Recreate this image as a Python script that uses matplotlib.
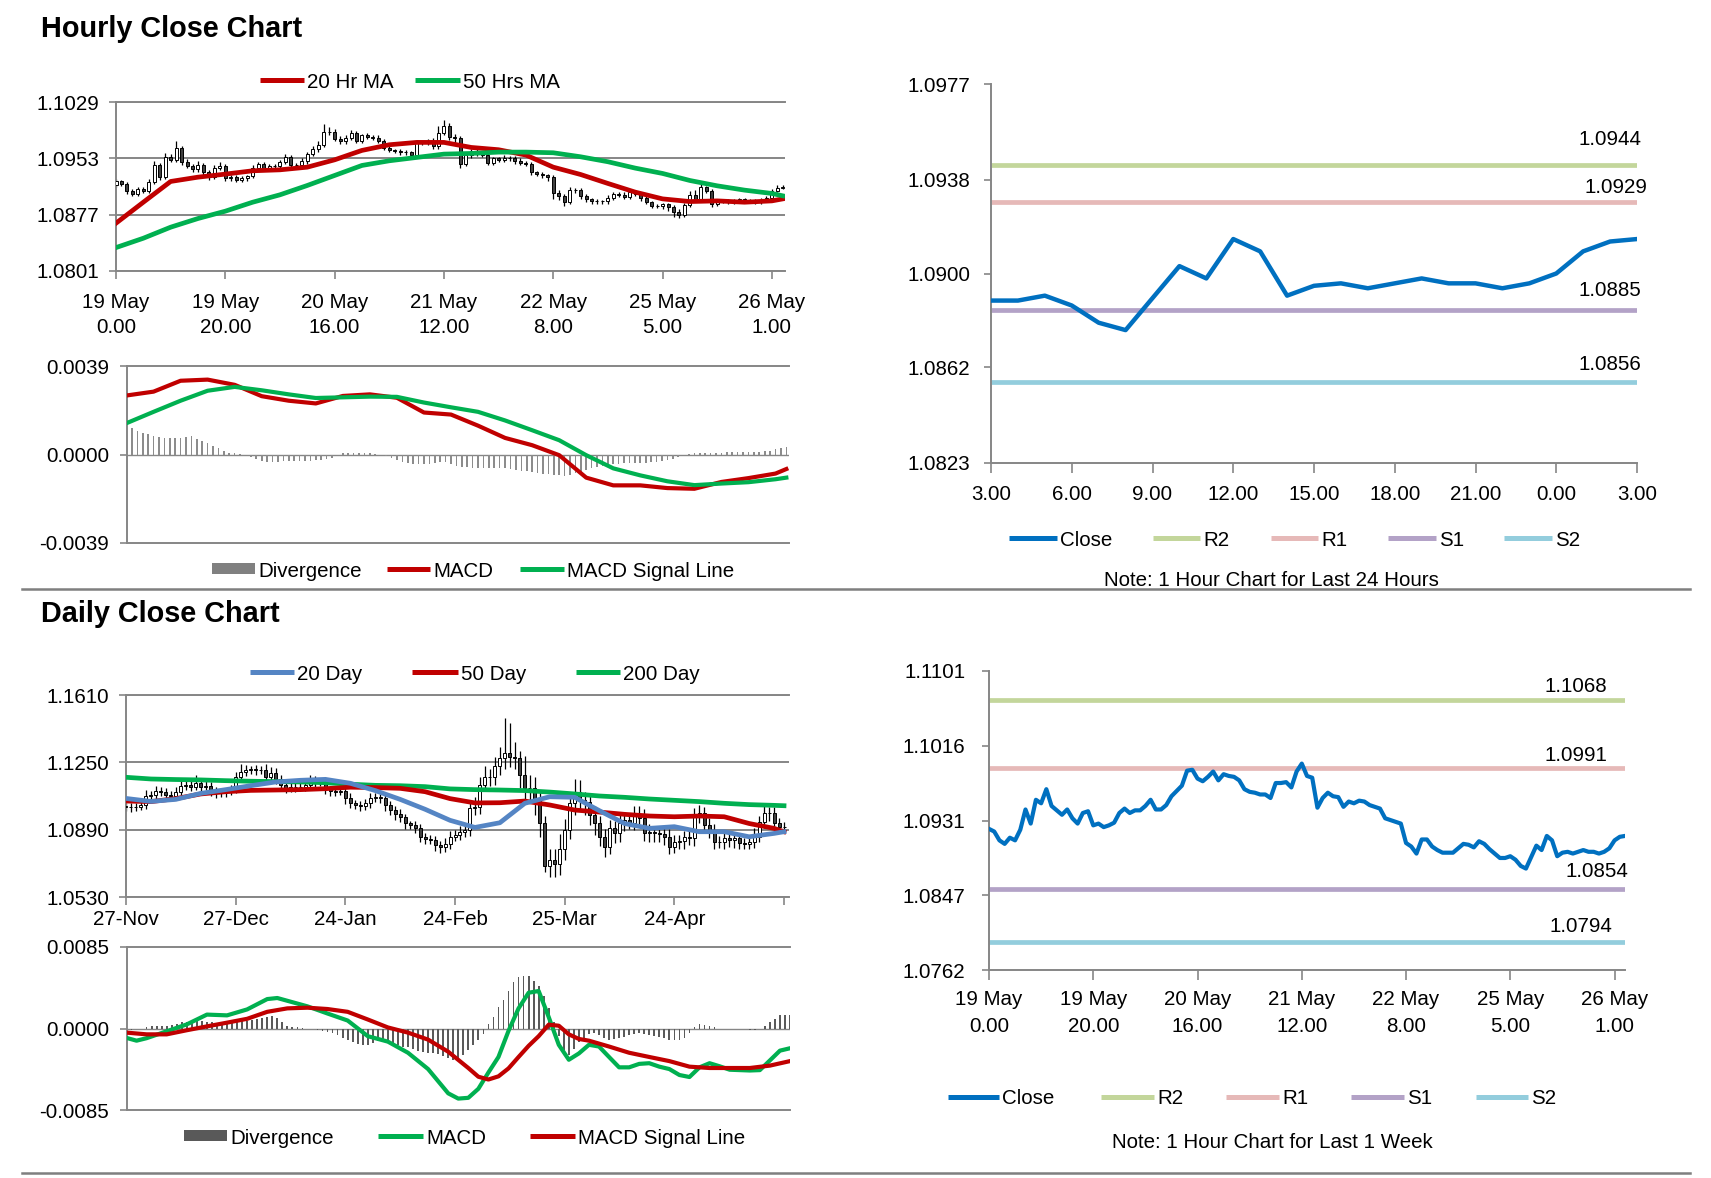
import matplotlib
matplotlib.use("Agg")
import matplotlib.pyplot as plt
from matplotlib import font_manager as fm
from matplotlib.lines import Line2D
from matplotlib.patches import Rectangle
import numpy as np

# ---------------- data: hourly (19 May 0.00 .. 26 May 3.00) ----------------
hour_labels = ["19 May\n0.00", "19 May\n20.00", "20 May\n16.00", "21 May\n12.00",
               "22 May\n8.00", "25 May\n5.00", "26 May\n1.00"]
hour_label_pos = [0, 20, 40, 60, 80, 100, 120]

hour_close = [
    1.0922, 1.0919, 1.0909, 1.0905, 1.0912, 1.0909, 1.0921, 1.0944, 1.0928, 1.0955,
    1.0951, 1.0967, 1.0948, 1.0943, 1.0938, 1.0944, 1.0934, 1.0928, 1.0940, 1.0942,
    1.0926, 1.0928, 1.0924, 1.0926, 1.0929, 1.0940, 1.0945, 1.0940, 1.0943, 1.0943,
    1.0948, 1.0955, 1.0944, 1.0944, 1.0949, 1.0959, 1.0965, 1.0971, 1.0988, 1.0989,
    1.0979, 1.0976, 1.0981, 1.0987, 1.0977, 1.0984, 1.0982, 1.0981, 1.0977, 1.0967,
    1.0964, 1.0963, 1.0961, 1.0961, 1.0957, 1.0974, 1.0974, 1.0975, 1.0969, 1.0987,
    1.0996, 1.0982, 1.0980, 1.0946, 1.0957, 1.0963, 1.0959, 1.0958, 1.0947, 1.0953,
    1.0951, 1.0954, 1.0953, 1.0949, 1.0947, 1.0945, 1.0934, 1.0932, 1.0930, 1.0928,
    1.0906, 1.0902, 1.0894, 1.0910, 1.0910, 1.0902, 1.0898, 1.0895, 1.0895, 1.0895,
    1.0900, 1.0905, 1.0904, 1.0901, 1.0908, 1.0905, 1.0899, 1.0894,
    1.0889, 1.0889, 1.0891, 1.0887, 1.0880, 1.0877, 1.0890, 1.0903, 1.0898, 1.0914,
    1.0909, 1.0891, 1.0895, 1.0896, 1.0894, 1.0896, 1.0898, 1.0896, 1.0896, 1.0894,
    1.0896, 1.0900, 1.0909, 1.0913, 1.0914]
hour_first_open = 1.0917
hour_hi_pips = [
    3, 2, 2, 3, 2, 3, 4, 6, 3, 5, 4, 9, 3, 4, 3, 5, 3, 3, 4, 6,
    3, 2, 3, 3, 2, 4, 3, 3, 2, 3, 3, 4, 3, 3, 4, 3, 4, 5, 11, 6,
    3, 4, 3, 4, 3, 2, 3, 2, 3, 2, 3, 2, 3, 3, 2, 4, 3, 4, 6, 10,
    9, 5, 4, 3, 3, 3, 3, 3, 4, 2, 2, 3, 2, 3, 4, 3, 3, 2, 3, 2,
    3, 4, 3, 4, 3, 3, 3, 2, 3, 2, 3, 3, 3, 3, 3, 2, 3, 3, 2, 3,
    2, 2, 3, 4, 3, 6, 7, 4, 2, 3, 2, 2, 2, 2, 2, 2, 2, 2, 3, 2,
    3, 4, 3]
hour_lo_pips = [
    3, 3, 4, 3, 3, 3, 3, 3, 4, 3, 3, 3, 4, 3, 3, 3, 4, 4, 3, 3,
    4, 3, 3, 3, 3, 3, 3, 3, 3, 3, 3, 3, 3, 3, 3, 3, 3, 3, 3, 3,
    3, 3, 3, 3, 3, 3, 3, 3, 3, 3, 3, 3, 3, 3, 3, 3, 3, 3, 3, 3,
    3, 4, 9, 6, 3, 3, 3, 3, 3, 3, 3, 3, 3, 3, 3, 3, 3, 3, 4, 5,
    8, 5, 5, 3, 4, 4, 4, 3, 3, 3, 3, 3, 3, 3, 3, 3, 3, 3, 3, 3,
    4, 5, 6, 4, 3, 3, 3, 3, 3, 3, 2, 2, 2, 2, 2, 2, 2, 2, 2, 2,
    2, 2, 2]

hr_idx = [0, 5, 10, 15, 20, 25, 30, 35, 40, 45, 50, 55, 60,
          65, 70, 75, 80, 85, 90, 95, 100, 105, 110, 115, 120, 122]
ma20_hr = [1.08655, 1.08938, 1.09218, 1.09276, 1.09317, 1.09362, 1.09375, 1.09411, 1.09510,
           1.09637, 1.09713, 1.09745, 1.09745, 1.09677, 1.09646, 1.09574, 1.09411, 1.09312,
           1.09191, 1.09074, 1.08983, 1.08947, 1.08956, 1.08938, 1.08956, 1.08983]
ma50_hr = [1.08326, 1.08452, 1.08601, 1.08718, 1.08817, 1.08938, 1.09038, 1.09164, 1.09299,
           1.09434, 1.09497, 1.09542, 1.09587, 1.09596, 1.09614, 1.09614, 1.09605, 1.09551,
           1.09484, 1.09398, 1.09326, 1.09231, 1.09159, 1.09101, 1.09056, 1.09024]
macd_hr = [0.00260, 0.00277, 0.00325, 0.00330, 0.00307, 0.00257, 0.00237, 0.00225, 0.00258,
           0.00265, 0.00250, 0.00185, 0.00176, 0.00127, 0.00073, 0.00041, -0.00003, -0.00102,
           -0.00136, -0.00136, -0.00148, -0.00151, -0.00121, -0.00104, -0.00084, -0.00064]
signal_hr = [0.00138, 0.00188, 0.00237, 0.00281, 0.00298, 0.00283, 0.00265, 0.00249, 0.00252,
             0.00255, 0.00254, 0.00229, 0.00208, 0.00188, 0.00150, 0.00107, 0.00063, -0.00003,
             -0.00061, -0.00092, -0.00118, -0.00135, -0.00128, -0.00122, -0.00109, -0.00102]
div_hr_pips = [
    12.7, 11.5, 10.4, 9.6, 8.9, 8.1, 7.8, 7.3, 7.3, 7.3, 7.3, 7.8, 8.1, 6.9, 5.8, 5.0, 3.8, 2.8,
    1.7, 0.8, 0.5, 0.2, 0.0, -1.1, -1.8, -2.9, -3.4, -3.4, -3.4, -2.9, -2.9, -2.9, -2.9, -2.9,
    -2.9, -2.6, -2.3, -1.8, -1.4, -0.3, 0.5, 0.5, 0.5, 0.5, 0.5, 0.5, 0.2, 0.0, -0.8, -1.4,
    -2.3, -3.4, -3.8, -4.1, -4.1, -4.1, -4.1, -3.8, -3.4, -3.4, -4.1, -4.9, -5.4, -5.7, -6.0,
    -6.0, -6.1, -6.1, -6.1, -6.1, -6.1, -6.4, -6.9, -7.2, -7.2, -7.5, -8.0, -8.4, -8.7, -9.0,
    -9.2, -9.5, -9.0, -8.0, -7.5, -6.9, -6.0, -5.4, -4.9, -4.4, -4.1, -4.1, -3.8, -3.8, -3.8,
    -3.8, -3.8, -3.5, -3.4, -2.9, -2.3, -1.8, -1.1, -0.3, 0.2, 0.5, 0.8, 0.8, 0.8, 0.8, 0.8,
    0.9, 1.2, 1.2, 1.2, 1.2, 1.2, 1.2, 1.5, 1.5, 2.3, 2.8, 3.5]

last24_labels = ["3.00", "6.00", "9.00", "12.00", "15.00", "18.00", "21.00", "0.00", "3.00"]
pivot_names = ["R2", "R1", "S1", "S2"]
pivot_colors = ["#C3D69B", "#E6B9B8", "#B3A2C7", "#93CDDD"]
pivot_day = [1.0944, 1.0929, 1.0885, 1.0856]
pivot_week = [1.1068, 1.0991, 1.0854, 1.0794]

# ---------------- data: daily (27-Nov .. 26-May) ----------------
day_labels = ["27-Nov", "27-Dec", "24-Jan", "24-Feb", "25-Mar", "24-Apr", ""]
day_label_pos = [0, 22, 44, 66, 88, 110, 132]
day_close = [
    1.1009, 1.1013, 1.1009, 1.1022, 1.1070, 1.1075, 1.1099, 1.1093, 1.1075, 1.1070,
    1.1093, 1.1124, 1.1129, 1.1120, 1.1142, 1.1120, 1.1124, 1.1102, 1.1084, 1.1088,
    1.1093, 1.1102, 1.1170, 1.1200, 1.1209, 1.1213, 1.1209, 1.1209, 1.1170, 1.1192,
    1.1159, 1.1129, 1.1111, 1.1116, 1.1120, 1.1120, 1.1129, 1.1156, 1.1141, 1.1147,
    1.1106, 1.1099, 1.1093, 1.1099, 1.1057, 1.1031, 1.1022, 1.1016, 1.1031, 1.1057,
    1.1063, 1.1057, 1.1022, 1.0995, 1.0973, 1.0956, 1.0923, 1.0915, 1.0897, 1.0852,
    1.0839, 1.0834, 1.0807, 1.0798, 1.0816,
    1.0852, 1.0861, 1.0879, 1.0888, 1.1004, 1.1013, 1.1129, 1.1170, 1.1170, 1.1231,
    1.1272, 1.1299, 1.1281, 1.1272, 1.1183, 1.1111, 1.1111, 1.1049, 1.0923, 1.0695,
    1.0727, 1.0709, 1.0789, 1.0888, 1.1031, 1.1093, 1.1049, 1.1040, 1.0968, 1.0923,
    1.0852, 1.0798, 1.0897, 1.0870, 1.0923, 1.0941, 1.0927, 1.0974, 1.0950, 1.0870,
    1.0879, 1.0873, 1.0866, 1.0852, 1.0798, 1.0825, 1.0831, 1.0852, 1.0848, 1.0959,
    1.0977, 1.0915, 1.0888, 1.0825, 1.0825, 1.0843, 1.0834, 1.0843, 1.0820, 1.0816,
    1.0825, 1.0852, 1.0932, 1.0981, 1.0977, 1.0923, 1.0906, 1.0902]
day_first_open = 1.1018
day_hi_pips = [
    15, 20, 18, 25, 30, 20, 25, 20, 18, 22, 25, 30, 35, 25, 40, 20, 25, 20, 15, 25,
    20, 25, 30, 40, 25, 20, 25, 20, 30, 35, 30, 25, 20, 25, 20, 25, 30, 25, 20, 20,
    25, 20, 25, 20, 25, 30, 20, 20, 25, 30, 25, 20, 25, 20, 20, 25, 20, 15, 20, 25,
    20, 25, 20, 25, 30,
    30, 25, 30, 35, 40, 50, 45, 60, 45, 50, 60, 190, 160, 80, 40, 100, 70, 60, 50, 40,
    60, 60, 80, 60, 60, 70, 60, 40, 40, 50, 40, 40, 45, 40, 50, 40, 30, 45, 40, 50,
    40, 30, 30, 40, 40, 35, 30, 30, 35, 45, 45, 35, 40, 30, 30, 35, 30, 25, 30, 25,
    30, 45, 30, 40, 30, 35, 30, 25]
day_lo_pips = [
    20, 25, 20, 15, 20, 25, 20, 25, 20, 15, 20, 25, 20, 25, 20, 25, 20, 30, 25, 20,
    25, 20, 15, 20, 25, 20, 25, 20, 25, 20, 25, 30, 25, 20, 25, 20, 25, 20, 25, 20,
    25, 30, 25, 20, 30, 25, 20, 25, 20, 25, 20, 25, 30, 25, 30, 25, 30, 20, 25, 30,
    25, 20, 30, 35, 25,
    30, 25, 25, 30, 30, 35, 40, 30, 45, 40, 50, 60, 55, 60, 70, 60, 75, 80, 70, 30,
    60, 70, 60, 60, 50, 60, 55, 70, 55, 60, 50, 55, 40, 50, 45, 40, 35, 40, 45, 40,
    45, 50, 40, 45, 40, 35, 40, 45, 40, 45, 35, 40, 45, 40, 35, 40, 35, 40, 35, 30,
    30, 35, 30, 35, 40, 30, 35, 30]

dma_idx = [0, 5, 10, 15, 20, 25, 30, 35, 40, 45, 50, 55, 60, 65,
           70, 75, 80, 85, 90, 95, 100, 105, 110, 115, 120, 125, 130, 132]
ma20_day = [1.1057, 1.1041, 1.1052, 1.1084, 1.1104, 1.1125, 1.1145, 1.1154, 1.1159, 1.1138,
            1.1099, 1.1052, 1.0999, 1.0940, 1.0902, 1.0927, 1.1031, 1.1066, 1.1063, 1.0991,
            1.0923, 1.0897, 1.0906, 1.0879, 1.0879, 1.0852, 1.0870, 1.0879]
ma50_day = [1.1043, 1.1040, 1.1056, 1.1081, 1.1093, 1.1100, 1.1102, 1.1104, 1.1109, 1.1117,
            1.1115, 1.1111, 1.1093, 1.1056, 1.1033, 1.1034, 1.1043, 1.1022, 1.0995, 1.0984,
            1.0972, 1.0963, 1.0959, 1.0963, 1.0959, 1.0923, 1.0897, 1.0879]
ma200_day = [1.1170, 1.1161, 1.1158, 1.1156, 1.1152, 1.1149, 1.1147, 1.1145, 1.1141, 1.1133,
             1.1127, 1.1125, 1.1120, 1.1108, 1.1104, 1.1102, 1.1099, 1.1091, 1.1081, 1.1070,
             1.1063, 1.1054, 1.1047, 1.1040, 1.1031, 1.1024, 1.1020, 1.1018]

macd_day_idx = [0, 2, 4, 8, 12, 16, 20, 24, 28, 30, 32, 36, 40, 44, 48, 52, 56, 60, 64, 66,
                68, 70, 72, 74, 76, 78, 80, 82, 84, 86, 88, 90, 92, 94, 96, 98, 100, 102, 104,
                106, 108, 110, 112, 114, 116, 118, 120, 122, 124, 126, 128, 130, 132]
macd_day = [-0.00098, -0.00127, -0.00101, -0.00029, 0.00043, 0.00145, 0.00137, 0.00199,
            0.00307, 0.00318, 0.00289, 0.00231, 0.00156, 0.00083, -0.00080, -0.00137,
            -0.00253, -0.00423, -0.00676, -0.00731, -0.00723, -0.00629, -0.00459, -0.00297,
            -0.00025, 0.00210, 0.00373, 0.00391, 0.00119, -0.00170, -0.00326, -0.00260,
            -0.00170, -0.00188, -0.00297, -0.00405, -0.00405, -0.00369, -0.00362, -0.00398,
            -0.00423, -0.00485, -0.00506, -0.00405, -0.00362, -0.00394, -0.00430, -0.00434,
            -0.00438, -0.00434, -0.00333, -0.00231, -0.00206]
sig_day_idx = [0, 4, 8, 12, 16, 20, 24, 28, 32, 36, 40, 44, 48, 52, 56, 60, 64,
               68, 70, 72, 74, 76, 78, 80, 82, 84, 86, 88, 90, 92,
               96, 100, 104, 108, 112, 116, 120, 124, 128, 132]
sig_day = [-0.00043, -0.00061, -0.00061, -0.00018, 0.00022, 0.00061, 0.00101, 0.00174,
           0.00210, 0.00217, 0.00203, 0.00174, 0.00094, 0.00011, -0.00043, -0.00116, -0.00242,
           -0.00412, -0.00503, -0.00532, -0.00499, -0.00416, -0.00297, -0.00181, -0.00080,
           0.00040, 0.00029, -0.00061, -0.00109, -0.00127,
           -0.00188, -0.00253, -0.00297, -0.00340, -0.00398, -0.00412, -0.00412, -0.00412,
           -0.00387, -0.00340]
div_day_pips = [
    -2.5, -1.4, -0.7, 0.0, 1.1, 2.2, 2.9, 2.9, 2.9, 3.6, 4.7, 6.5, 7.2, 8.0, 8.3, 8.3, 7.2,
    6.5, 5.8, 6.5, 6.5, 7.2, 7.6, 8.0, 8.0, 8.7, 10.1, 11.2, 12.3, 13.0, 10.9, 7.2, 2.9, 1.8,
    1.1, 0.4, 0.0, -0.7, -1.4, -2.5, -3.6, -5.1, -7.2, -9.8, -12.3, -14.5, -16.3, -17.0,
    -17.0, -15.2, -13.4, -12.3, -13.4, -15.2, -17.0, -18.8, -19.5, -21.7, -23.1, -24.2,
    -25.3, -26.0, -26.8, -28.9, -30.7, -32.6, -34.0, -27.9, -22.4, -17.0, -11.6, -6.1, 4.7,
    11.9, 22.8, 30.0, 39.1, 48.1, 53.5, 54.3, 54.3, 49.9, 44.5, 33.6, 21.0, 6.5, -8.0,
    -22.4, -27.9, -21.7, -14.5, -9.8, -6.1, -5.1, -7.2, -9.8, -11.6, -10.9, -9.8, -8.7,
    -7.2, -6.1, -5.1, -6.1, -7.2, -8.0, -8.7, -9.8, -11.6, -12.3, -11.6, -9.8, -4.3, 1.1,
    4.7, 3.6, 2.2, 1.1, 0.0, 0.0, -0.7, -0.7, -0.7, -0.7, -1.4, -1.4, 0.0, 2.9, 6.5, 10.1,
    13.7, 14.5, 14.5]

# ---------------- style ----------------
names = {f.name for f in fm.fontManager.ttflist}
if "Liberation Sans Narrow" in names:
    FONT, FS = "Liberation Sans Narrow", 17
else:
    FONT, FS = "Liberation Sans", 14.8
plt.rcParams["font.family"] = [FONT, "DejaVu Sans"]

GRID = "#868686"
RED, GREEN, BLUE = "#C00000", "#00B050", "#0070C0"
BLUE20 = "#5585C4"

W, H = 1711, 1178
fig = plt.figure(figsize=(W / 100, H / 100), dpi=100)
fig.patch.set_facecolor("white")


def px_axes(l, t, r, b):
    return fig.add_axes([l / W, 1 - b / H, (r - l) / W, (b - t) / H])


def fx(x):
    return x / W


def fy(y):
    return 1 - y / H


def legend_item(x0, x1, y, color, label, kind="line"):
    if kind == "line":
        fig.add_artist(Line2D([fx(x0), fx(x1)], [fy(y), fy(y)], color=color, lw=3.6,
                              solid_capstyle="butt"))
    else:
        fig.add_artist(Rectangle((fx(x0), fy(y + 5)), (x1 - x0) / W, 11 / H, color=color, lw=0))
    fig.text(fx(x1 + 3), fy(y), label, ha="left", va="center_baseline", fontsize=FS)


def base_style(ax, top=False):
    ax.set_facecolor("white")
    ax.spines["right"].set_visible(False)
    ax.spines["top"].set_visible(top)
    for s in ["left", "bottom", "top"]:
        ax.spines[s].set_color(GRID)
        ax.spines[s].set_linewidth(1.4)
    ax.tick_params(direction="out", color=GRID, width=1.2, labelsize=FS, labelcolor="black")


def candles(ax, close, first_open, hi_pips, lo_pips, width):
    cl = np.array(close)
    op = np.concatenate([[first_open], cl[:-1]])
    hi = np.maximum(op, cl) + np.array(hi_pips) * 1e-4
    lo = np.minimum(op, cl) - np.array(lo_pips) * 1e-4
    x = np.arange(len(cl))
    up = cl >= op
    ax.vlines(x, lo, hi, color="black", lw=0.9, zorder=2)
    ax.bar(x[up], (cl - op)[up], bottom=op[up], width=width, facecolor="white",
           edgecolor="black", lw=0.7, zorder=3)
    ax.bar(x[~up], (op - cl)[~up], bottom=cl[~up], width=width, facecolor="#404040",
           edgecolor="black", lw=0.7, zorder=3)


def price_panel(ax, ticks, xlim, xpos, xlabels, pad_x, spacing):
    base_style(ax, top=True)
    ax.set_ylim(float(ticks[0]), float(ticks[-1]))
    ax.set_yticks([float(t) for t in ticks])
    ax.set_yticklabels(ticks)
    ax.yaxis.grid(True, color=GRID, lw=1.4)
    ax.set_axisbelow(True)
    ax.set_xlim(*xlim)
    ax.set_xticks(xpos)
    ax.set_xticklabels(xlabels, linespacing=spacing)
    ax.tick_params(axis="y", length=5, pad=7)
    ax.tick_params(axis="x", length=6, pad=pad_x)


def macd_panel(ax, lim, labels, xlim):
    base_style(ax, top=True)
    ax.set_ylim(-lim, lim)
    ax.set_yticks([-lim, 0, lim])
    ax.set_yticklabels(labels)
    ax.set_xlim(*xlim)
    ax.set_xticks([])
    ax.axhline(0, color=GRID, lw=1.0, zorder=1)
    ax.tick_params(axis="y", length=5, pad=7.5)


# ---------------- top-left: hourly candles ----------------
ax1 = px_axes(116, 102, 785, 271)
candles(ax1, hour_close, hour_first_open, hour_hi_pips, hour_lo_pips, 0.55)
ax1.plot(hr_idx, ma20_hr, color=RED, lw=3.4, zorder=4)
ax1.plot(hr_idx, ma50_hr, color=GREEN, lw=3.4, zorder=4)
price_panel(ax1, ["1.0801", "1.0877", "1.0953", "1.1029"], (0, 122.4),
            hour_label_pos, hour_labels, 9.5, 1.4)
legend_item(260, 304, 80, RED, "20 Hr MA")
legend_item(415, 460, 80, GREEN, "50 Hrs MA")

# ---------------- top-left: hourly MACD ----------------
ax2 = px_axes(126.5, 366, 788.5, 543)
ax2.bar(np.arange(len(div_hr_pips)), np.array(div_hr_pips) * 1e-4, width=0.3,
        color="#8C8C8C", zorder=2)
ax2.plot(hr_idx, macd_hr, color=RED, lw=3.0, zorder=3)
ax2.plot(hr_idx, signal_hr, color=GREEN, lw=3.0, zorder=4)
macd_panel(ax2, 0.0039, ["-0.0039", "0.0000", "0.0039"], (0, 122.4))
legend_item(212, 255, 569, "#808080", "Divergence", kind="bar")
legend_item(387, 430, 569, RED, "MACD")
legend_item(520, 564, 569, GREEN, "MACD Signal Line")

# ---------------- top-right: last 24 hours ----------------
last24 = hour_close[-25:]
ax3 = px_axes(991, 84, 1637, 463)
base_style(ax3)
x24 = np.arange(len(last24))
day_lab_dx = [5, 10, 4, 4]
day_lab_dy = [26, 15, 20, 17]
for name, col, lev, dx, dy in zip(pivot_names, pivot_colors, pivot_day, day_lab_dx, day_lab_dy):
    ax3.hlines(lev, x24[0], x24[-1], color=col, lw=3.4, zorder=2)
    ax3.annotate(f"{lev:.4f}", (x24[-1], lev), xytext=(dx * 0.72, dy * 0.72),
                 textcoords="offset points", ha="right", va="center", fontsize=FS)
ax3.plot(x24, last24, color=BLUE, lw=3.2, zorder=3)
yt3 = ["1.0823", "1.0862", "1.0900", "1.0938", "1.0977"]
ax3.set_ylim(1.0823, 1.0977)
ax3.set_yticks([float(t) for t in yt3])
ax3.set_yticklabels(yt3)
ax3.set_xlim(0, 24)
ax3.set_xticks(np.arange(0, 25, 3))
ax3.set_xticklabels(last24_labels)
ax3.tick_params(axis="y", length=5, pad=10)
ax3.tick_params(axis="x", length=7, pad=9)
legend_item(1009, 1057, 538, BLUE, "Close")
for (x0, x1), name, col in zip([(1153, 1200), (1271, 1318), (1388, 1436), (1504, 1552)],
                               pivot_names, pivot_colors):
    legend_item(x0, x1, 538, col, name)
fig.text(fx(1271), fy(578), "Note: 1 Hour Chart for Last 24 Hours", ha="center",
         va="center_baseline", fontsize=FS)

# ---------------- bottom-left: daily candles ----------------
ax4 = px_axes(126, 695, 789, 897)
candles(ax4, day_close, day_first_open, day_hi_pips, day_lo_pips, 0.6)
ax4.plot(dma_idx, ma200_day, color=GREEN, lw=3.4, zorder=4)
ax4.plot(dma_idx, ma50_day, color=RED, lw=3.4, zorder=5)
ax4.plot(dma_idx, ma20_day, color=BLUE20, lw=3.4, zorder=6)
price_panel(ax4, ["1.0530", "1.0890", "1.1250", "1.1610"], (0, 133),
            day_label_pos, day_labels, 3.5, 1.2)
legend_item(250, 294, 672, BLUE20, "20 Day")
legend_item(412, 458, 672, RED, "50 Day")
legend_item(576, 620, 672, GREEN, "200 Day")

# ---------------- bottom-left: daily MACD ----------------
ax5 = px_axes(126.5, 947, 790, 1110)
ax5.bar(np.arange(len(div_day_pips)), np.array(div_day_pips) * 1e-4, width=0.35,
        color="#5A5A5A", zorder=2)
ax5.plot(macd_day_idx, macd_day, color=GREEN, lw=3.0, zorder=3)
ax5.plot(sig_day_idx, sig_day, color=RED, lw=3.0, zorder=4)
macd_panel(ax5, 0.0085, ["-0.0085", "0.0000", "0.0085"], (0, 132))
legend_item(184, 227, 1136, "#595959", "Divergence", kind="bar")
legend_item(378, 423, 1136, GREEN, "MACD")
legend_item(530, 575, 1136, RED, "MACD Signal Line")

# ---------------- bottom-right: last week ----------------
ax6 = px_axes(989, 671, 1625, 970)
base_style(ax6)
xw = np.arange(len(hour_close))
wk_lab_dx = [-49, -49, -28, -44]
wk_lab_dy = [14, 13, 17, 15]
for name, col, lev, dx, dy in zip(pivot_names, pivot_colors, pivot_week, wk_lab_dx, wk_lab_dy):
    ax6.hlines(lev, xw[0], xw[-1], color=col, lw=3.4, zorder=2)
    ax6.annotate(f"{lev:.4f}", (xw[-1], lev), xytext=(dx * 0.72, dy * 0.72),
                 textcoords="offset points", ha="center", va="center", fontsize=FS)
ax6.plot(xw, hour_close, color=BLUE, lw=3.0, zorder=3)
yt6 = ["1.0762", "1.0847", "1.0931", "1.1016", "1.1101"]
ax6.set_ylim(1.0762, 1.1101)
ax6.set_yticks([float(t) for t in yt6])
ax6.set_yticklabels(yt6)
ax6.set_xlim(0, 122)
ax6.set_xticks(hour_label_pos)
ax6.set_xticklabels(hour_labels, linespacing=1.55)
ax6.tick_params(axis="y", length=5, pad=12)
ax6.tick_params(axis="x", length=7, pad=7.5)
legend_item(948, 999, 1097, BLUE, "Close")
for (x0, x1), name, col in zip([(1101, 1154), (1226, 1279), (1351, 1404), (1476, 1528)],
                               pivot_names, pivot_colors):
    legend_item(x0, x1, 1097, col, name)
fig.text(fx(1272), fy(1140), "Note: 1 Hour Chart for Last 1 Week", ha="center",
         va="center_baseline", fontsize=FS)

# ---------------- titles and separators ----------------
fig.text(fx(41), fy(37), "Hourly Close Chart", ha="left", va="baseline", fontsize=20.8,
         fontweight="bold", family=["Liberation Sans", "DejaVu Sans"])
fig.text(fx(41), fy(622), "Daily Close Chart", ha="left", va="baseline", fontsize=20.8,
         fontweight="bold", family=["Liberation Sans", "DejaVu Sans"])
for y in (589, 1173):
    fig.add_artist(Line2D([fx(22), fx(1690)], [fy(y), fy(y)], color="#7F7F7F", lw=1.8))

fig.savefig("out.png", dpi=100, facecolor="white")
